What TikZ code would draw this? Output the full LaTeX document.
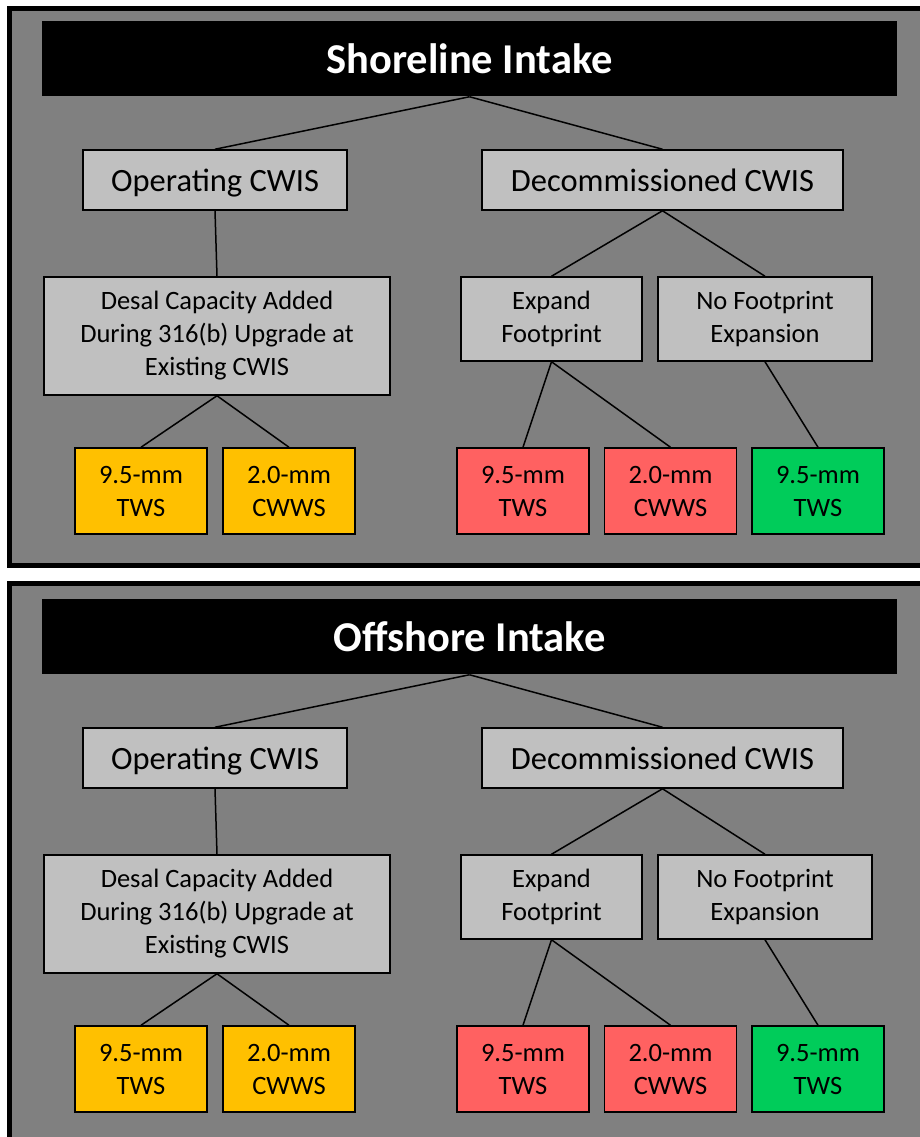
\documentclass[tikz,border=0pt]{standalone}
\usepackage{fontspec}
\setmainfont{Carlito}
\usepackage{xcolor}
\definecolor{panelgray}{HTML}{808080}
\definecolor{boxgray}{HTML}{C0C0C0}
\definecolor{screenamber}{HTML}{FFC000}
\definecolor{screenred}{HTML}{FF6161}
\definecolor{screengreen}{HTML}{00CC5A}

\begin{document}
\begin{tikzpicture}[x=1pt, y=-1pt, line width=1.5pt,
		box/.style={draw=black, fill=boxgray, inner sep=0pt, align=center},
		midbox/.style={box, font=\fontsize{32.5}{38}\selectfont, text depth=0pt, minimum height=60pt},
		smallbox/.style={box, font=\fontsize{26.5}{33}\selectfont},
		leaf/.style={smallbox, minimum width=132pt, minimum height=86pt}]
		\clip (0,0) rectangle (920,1137);
		\fill[white] (0,0) rectangle (920,1137);
		\draw[line width=5pt, fill=panelgray] (9.5,8.5) rectangle (935,565.5);
		\draw[line width=5pt, fill=panelgray] (9.5,583.5) rectangle (935,1150);
		\foreach \oy/\ttl in {0/Shoreline Intake, 578/Offshore Intake}
			{
				\begin{scope}[yshift=-\oy pt]
					\node[fill=black, text=white, inner sep=0pt, minimum width=855pt, minimum height=75pt,
						font=\fontsize{42.5}{50}\selectfont\bfseries] (title) at (469.5,58.5) {\ttl};
					\node[midbox, minimum width=264pt] (op) at (215,180) {Operating CWIS};
					\node[midbox, minimum width=361pt] (decom) at (662.5,180) {Decommissioned CWIS};
					\node[smallbox, minimum width=346pt, minimum height=118pt] (desal) at (217,336)
						{Desal Capacity Added\\During 316(b) Upgrade at\\Existing CWIS};
					\node[smallbox, minimum width=181pt, minimum height=84pt] (expand) at (551.5,319)
						{Expand\\Footprint};
					\node[smallbox, minimum width=214pt, minimum height=84pt] (nofoot) at (765,319)
						{No Footprint\\Expansion};
					\node[leaf, fill=screenamber] (ytws) at (141,491) {9.5-mm\\TWS};
					\node[leaf, fill=screenamber] (ycwws) at (289,491) {2.0-mm\\CWWS};
					\node[leaf, fill=screenred] (rtws) at (523,491) {9.5-mm\\TWS};
					\node[leaf, fill=screenred] (rcwws) at (670.5,491) {2.0-mm\\CWWS};
					\node[leaf, fill=screengreen] (gtws) at (818,491) {9.5-mm\\TWS};
					\draw (title.south) -- (op.north);
					\draw (title.south) -- (decom.north);
					\draw (op.south) -- (desal.north);
					\draw (decom.south) -- (expand.north);
					\draw (decom.south) -- (nofoot.north);
					\draw (desal.south) -- (ytws.north);
					\draw (desal.south) -- (ycwws.north);
					\draw (expand.south) -- (rtws.north);
					\draw (expand.south) -- (rcwws.north);
					\draw (nofoot.south) -- (gtws.north);
				\end{scope}
			}
	\end{tikzpicture}
\end{document}
